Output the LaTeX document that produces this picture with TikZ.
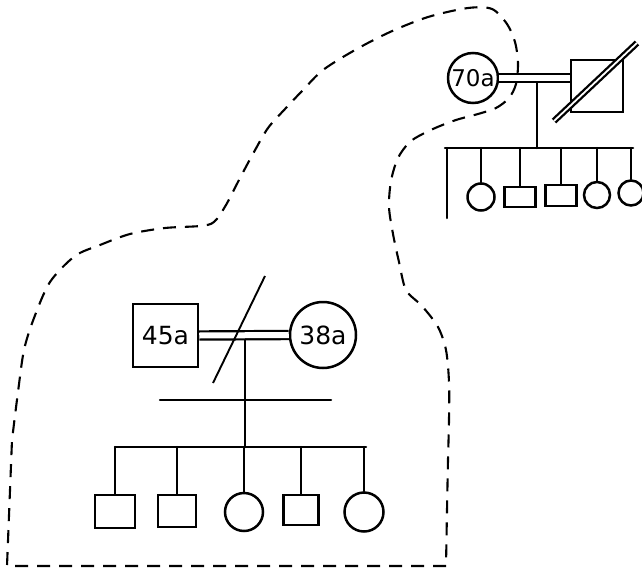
\documentclass[tikz,border=0pt]{standalone}
\usepackage{fontspec}
\newfontfamily\lbl{DejaVu Sans}
\begin{document}
\begin{tikzpicture}[x=1pt,y=-1pt,
  ln/.style={line width=2.5pt, line cap=round},
  person/.style={draw, line width=2.5pt, inner sep=0pt},
  sq/.style={person, rectangle},
  ci/.style={person, circle},
  dbl/.style={draw, line width=2.2pt, double=white, double distance=6pt},
  dstripe/.style={draw, line width=2.3pt, double=white, double distance=1.8pt},
  bound/.style={line width=2.1pt, dash pattern=on 13pt off 9pt}]
\useasboundingbox (0,0) rectangle (642,570);

% ---- lower family ----
\node[sq, minimum width=65pt, minimum height=63pt, font=\lbl\fontsize{25}{25}\selectfont] (m45) at (165.5,335.5) {45a};
\node[ci, minimum size=66pt, font=\lbl\fontsize{25}{25}\selectfont] (f38) at (323,335) {38a};
\draw[dbl] (m45.east) -- (f38.west);
\coordinate (bj) at (245,340);
\coordinate (slA) at (213,383);
\coordinate (slB) at (265,276);
\draw[line width=1.9pt] (slA) -- (slB);
\coordinate (sepL) at (160,400);
\coordinate (sepR) at (331,400);
\draw[ln] (sepL) -- (sepR);
\coordinate (bsibL) at (115,447);
\coordinate (bsibR) at (366,447);
\draw[ln] (bsibL) -- (bsibR);
\draw[ln] (bj) -- (bj |- bsibL);

\node[sq, minimum width=40pt, minimum height=33pt] (c1) at (115,511.5) {};
\node[sq, minimum width=38pt, minimum height=32pt] (c2) at (177,511) {};
\node[ci, minimum size=38pt] (c3) at (244,512) {};
\node[sq, minimum width=35pt, minimum height=30pt] (c4) at (301,510) {};
\node[ci, minimum size=39pt] (c5) at (364,512) {};
\foreach \c in {c1,c2,c3,c4,c5}
  \draw[ln] (\c.north |- bsibL) -- (\c.north);

% ---- upper family ----
\node[ci, minimum size=50pt, font=\lbl\fontsize{23}{23}\selectfont] (f70) at (473,78) {\raisebox{-2pt}{70a}};
\node[sq, minimum width=52pt, minimum height=52pt] (mtop) at (597,86) {};
\draw[dbl] (f70.east) -- (f70.east -| mtop.west);
\coordinate (tsA) at (554,121);
\coordinate (tsB) at (637,43);
\draw[dstripe] (tsA) -- (tsB);
\coordinate (tj) at (537,83);
\coordinate (tsibL) at (445,148);
\coordinate (tsibR) at (633,148);
\draw[ln] (tsibL) -- (tsibR);
\draw[ln] (tj) -- (tj |- tsibL);
\coordinate (tlong) at (447,218);
\draw[ln] (tlong |- tsibL) -- (tlong);

\node[ci, minimum size=27pt] (t1) at (481,197) {};
\node[sq, minimum width=31pt, minimum height=20pt] (t2) at (520,197) {};
\node[sq, minimum width=31pt, minimum height=21pt] (t3) at (561,195.5) {};
\node[ci, minimum size=26pt] (t4) at (597,195) {};
\node[ci, minimum size=25pt] (t5) at (631,193) {};
\foreach \c in {t1,t2,t3,t4,t5}
  \draw[ln] (\c.north |- tsibL) -- (\c.north);

% ---- dashed boundary ----
\draw[bound] (446,566) -- (7,566) -- plot[smooth, tension=0.5] coordinates {
  (12,440) (18,392) (24,350) (34,318) (50,282) (75,256) (100,245) (130,234)
  (165,228) (200,226) (214,222) (226,205) (240,178) (254,152) (268,128) (285,109)
  (303,90) (323,70) (355,50) (390,32) (428,17) (468,8) (492,9) (507,24)
  (515,42) (518,63) (516,84) (509,98) (496,108) (478,114) (456,120)
  (433,129) (411,141) (398,158) (391,181) (389,207) (393,234) (399,262)
  (406,290) (422,306) (438,327) (446,350) (449,382) (449,420) (448,460)
  (447,510)} -- (446,566);
\end{tikzpicture}
\end{document}
